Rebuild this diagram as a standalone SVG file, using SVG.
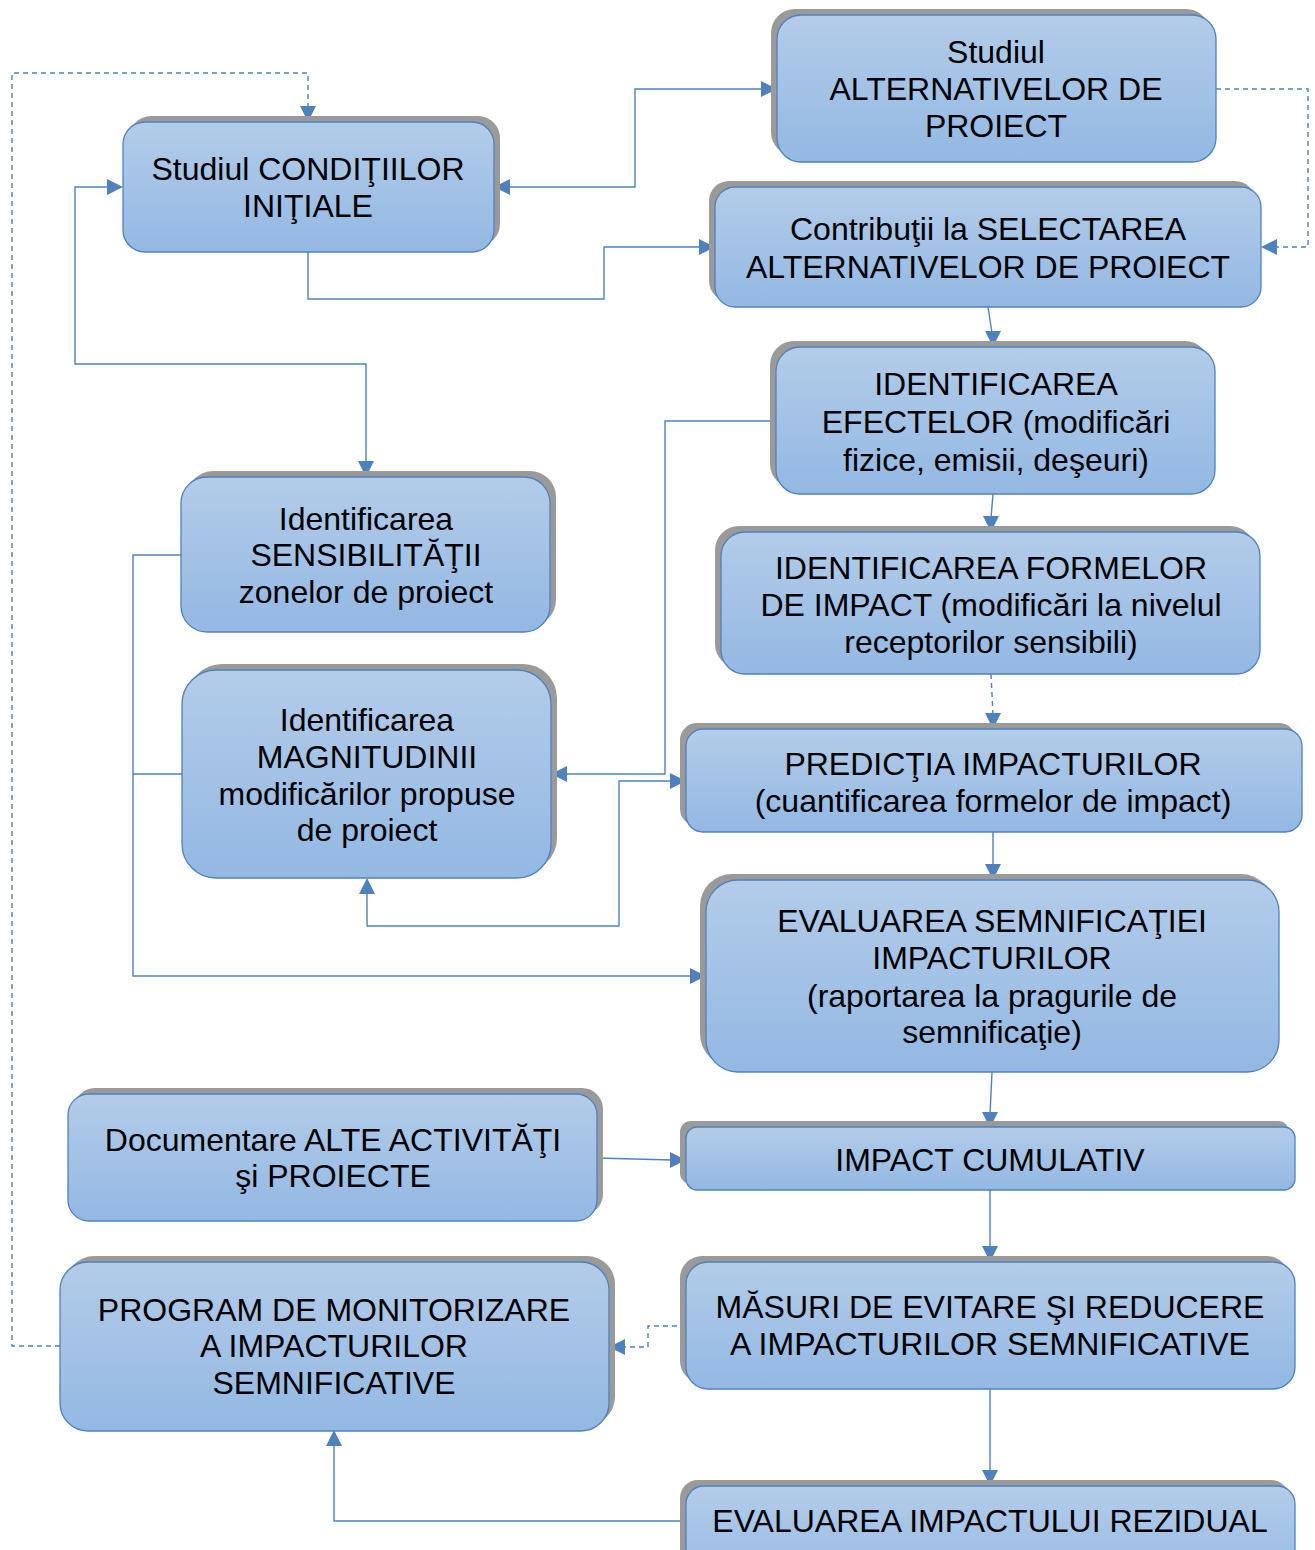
<svg xmlns="http://www.w3.org/2000/svg" width="1315" height="1550" viewBox="0 0 1315 1550">
<defs>
<linearGradient id="g" x1="0" y1="0" x2="0" y2="1">
<stop offset="0" stop-color="#b3cce9"/>
<stop offset="1" stop-color="#93b8e3"/>
</linearGradient>
<style>
.sh{fill:#9a9a9a}
.bx{fill:url(#g);stroke:#4f81bd;stroke-width:1.3}
.t{font-family:"Liberation Sans",Arial,sans-serif;font-size:32px;fill:#000;text-anchor:middle}
.c{fill:none;stroke:#4f81bd;stroke-width:1.4}
.d{stroke-dasharray:5,4}
.ar{fill:#4f81bd}
</style>
</defs>
<rect width="1315" height="1550" fill="#fff"/>
<g id="connectors">
<path class="c d" d="M60,1346 H12 V73 H308 V108"/>
<path class="c" d="M508,187 H635 V89 H763"/>
<path class="c" d="M308,252 V299 H604 V247 H701"/>
<path class="c d" d="M1216,89 H1308 V247 H1275"/>
<path class="c" d="M988,307 L992,333"/>
<path class="c" d="M109,187 H75 V364 H366 V463"/>
<path class="c" d="M776,421 H665 V774 H565"/>
<path class="c" d="M993,494 L991,518"/>
<path class="c d" d="M991,674 L993,715"/>
<path class="c" d="M367,892 V926 H619 V781 H672"/>
<path class="c" d="M181,555 H133 V976 H692"/>
<path class="c" d="M182,774 H133"/>
<path class="c" d="M993,832 V866"/>
<path class="c" d="M992,1072 L990,1114"/>
<path class="c" d="M597,1158 L672,1160"/>
<path class="c" d="M990,1190 V1248"/>
<path class="c d" d="M686,1326 H648 V1347 H623"/>
<path class="c" d="M990,1389 V1472"/>
<path class="c" d="M686,1521 H334 V1444"/>
<polygon class="ar" points="300,106 316,106 308,122"/>
<polygon class="ar" points="510,179 510,195 494,187"/>
<polygon class="ar" points="761,81 761,97 777,89"/>
<polygon class="ar" points="699,239 699,255 715,247"/>
<polygon class="ar" points="1277,239 1277,255 1261,247"/>
<polygon class="ar" points="985,331 1001,331 993,347"/>
<polygon class="ar" points="107,179 107,195 123,187"/>
<polygon class="ar" points="358,461 374,461 366,477"/>
<polygon class="ar" points="567,766 567,782 551,774"/>
<polygon class="ar" points="983,516 999,516 991,532"/>
<polygon class="ar" points="985,713 1001,713 993,729"/>
<polygon class="ar" points="359,894 375,894 367,878"/>
<polygon class="ar" points="670,773 670,789 686,781"/>
<polygon class="ar" points="690,968 690,984 706,976"/>
<polygon class="ar" points="985,864 1001,864 993,880"/>
<polygon class="ar" points="982,1112 998,1112 990,1128"/>
<polygon class="ar" points="670,1152 670,1168 686,1160"/>
<polygon class="ar" points="982,1246 998,1246 990,1262"/>
<polygon class="ar" points="625,1339 625,1355 609,1347"/>
<polygon class="ar" points="982,1470 998,1470 990,1486"/>
<polygon class="ar" points="326,1446 342,1446 334,1430"/>
</g>
<g id="n1">
<rect class="sh" x="129" y="116" width="371" height="130" rx="22"/>
<rect class="bx" x="123" y="122" width="371" height="130" rx="22"/>
<text class="t" x="308" y="180">Studiul CONDIŢIILOR</text>
<text class="t" x="308" y="217">INIŢIALE</text>
</g>
<g id="n2">
<rect class="sh" x="771" y="9" width="439" height="147" rx="24"/>
<rect class="bx" x="777" y="15" width="439" height="147" rx="24"/>
<text class="t" x="996" y="63">Studiul</text>
<text class="t" x="996" y="100">ALTERNATIVELOR DE</text>
<text class="t" x="996" y="137">PROIECT</text>
</g>
<g id="n3">
<rect class="sh" x="709" y="181" width="546" height="120" rx="20"/>
<rect class="bx" x="715" y="187" width="546" height="120" rx="20"/>
<text class="t" x="988" y="240">Contribuţii la SELECTAREA</text>
<text class="t" x="988" y="278">ALTERNATIVELOR DE PROIECT</text>
</g>
<g id="n4">
<rect class="sh" x="770" y="341" width="439" height="147" rx="24"/>
<rect class="bx" x="776" y="347" width="439" height="147" rx="24"/>
<text class="t" x="996" y="395">IDENTIFICAREA</text>
<text class="t" x="996" y="433">EFECTELOR (modificări</text>
<text class="t" x="996" y="471">fizice, emisii, deşeuri)</text>
</g>
<g id="n5">
<rect class="sh" x="715" y="526" width="539" height="142" rx="24"/>
<rect class="bx" x="721" y="532" width="539" height="142" rx="24"/>
<text class="t" x="991" y="579">IDENTIFICAREA FORMELOR</text>
<text class="t" x="991" y="616">DE IMPACT (modificări la nivelul</text>
<text class="t" x="991" y="653">receptorilor sensibili)</text>
</g>
<g id="n6">
<rect class="sh" x="680" y="723" width="616" height="103" rx="17"/>
<rect class="bx" x="686" y="729" width="616" height="103" rx="17"/>
<text class="t" x="993" y="775">PREDICŢIA IMPACTURILOR</text>
<text class="t" x="993" y="812">(cuantificarea formelor de impact)</text>
</g>
<g id="n7">
<rect class="sh" x="700" y="874" width="573" height="192" rx="32"/>
<rect class="bx" x="706" y="880" width="573" height="192" rx="32"/>
<text class="t" x="992" y="932">EVALUAREA SEMNIFICAŢIEI</text>
<text class="t" x="992" y="969">IMPACTURILOR</text>
<text class="t" x="992" y="1007">(raportarea la pragurile de</text>
<text class="t" x="992" y="1043">semnificaţie)</text>
</g>
<g id="n8">
<rect class="sh" x="680" y="1121" width="609" height="63" rx="11"/>
<rect class="bx" x="686" y="1127" width="609" height="63" rx="11"/>
<text class="t" x="990" y="1171">IMPACT CUMULATIV</text>
</g>
<g id="n9">
<rect class="sh" x="680" y="1256" width="609" height="127" rx="22"/>
<rect class="bx" x="686" y="1262" width="609" height="127" rx="22"/>
<text class="t" x="990" y="1318">MĂSURI DE EVITARE ŞI REDUCERE</text>
<text class="t" x="990" y="1355">A IMPACTURILOR SEMNIFICATIVE</text>
</g>
<g id="n10">
<rect class="sh" x="680" y="1480" width="609" height="110" rx="18"/>
<rect class="bx" x="686" y="1486" width="609" height="110" rx="18"/>
<text class="t" x="990" y="1532">EVALUAREA IMPACTULUI REZIDUAL</text>
</g>
<g id="n11">
<rect class="sh" x="187" y="471" width="369" height="155" rx="26"/>
<rect class="bx" x="181" y="477" width="369" height="155" rx="26"/>
<text class="t" x="366" y="530">Identificarea</text>
<text class="t" x="366" y="566">SENSIBILITĂŢII</text>
<text class="t" x="366" y="603">zonelor de proiect</text>
</g>
<g id="n12">
<rect class="sh" x="188" y="664" width="369" height="208" rx="34"/>
<rect class="bx" x="182" y="670" width="369" height="208" rx="34"/>
<text class="t" x="367" y="731">Identificarea</text>
<text class="t" x="367" y="768">MAGNITUDINII</text>
<text class="t" x="367" y="805">modificărilor propuse</text>
<text class="t" x="367" y="841">de proiect</text>
</g>
<g id="n13">
<rect class="sh" x="74" y="1088" width="529" height="127" rx="21"/>
<rect class="bx" x="68" y="1094" width="529" height="127" rx="21"/>
<text class="t" x="333" y="1151">Documentare ALTE ACTIVITĂŢI</text>
<text class="t" x="333" y="1187">şi PROIECTE</text>
</g>
<g id="n14">
<rect class="sh" x="66" y="1256" width="549" height="169" rx="28"/>
<rect class="bx" x="60" y="1262" width="549" height="169" rx="28"/>
<text class="t" x="334" y="1321">PROGRAM DE MONITORIZARE</text>
<text class="t" x="334" y="1357">A IMPACTURILOR</text>
<text class="t" x="334" y="1394">SEMNIFICATIVE</text>
</g>
</svg>
